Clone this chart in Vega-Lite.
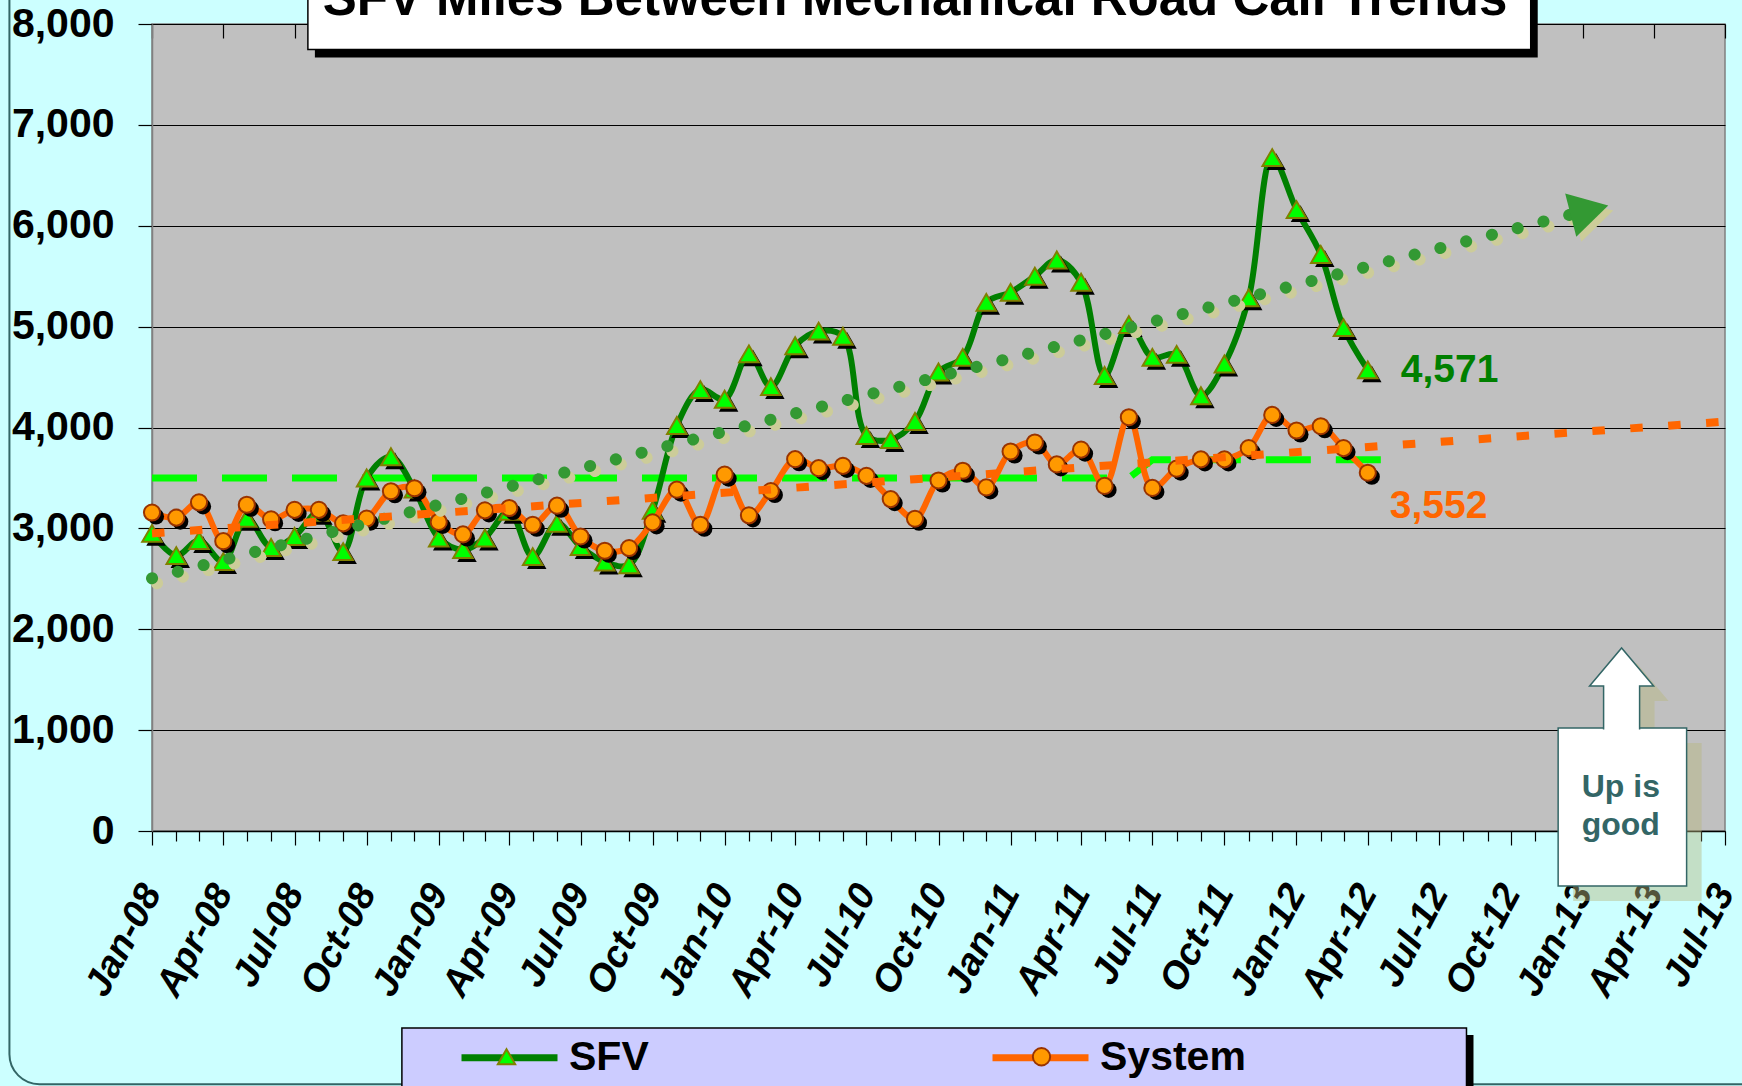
{
  "$schema": "https://vega.github.io/schema/vega-lite/v6.json",
  "autosize": {"type": "none"},
  "width": 1573,
  "height": 807,
  "padding": {"left": 152, "top": 24, "right": 17, "bottom": 255},
  "background": "#CCFFFF",
  "config": {"view": {"fill": "#C0C0C0", "stroke": "#808080", "strokeWidth": 1.5}},
  "datasets": {
    "mbrc": [
      {"date": "2008-01-01T00:00:00", "series": "SFV", "miles": 2950},
      {"date": "2008-02-01T00:00:00", "series": "SFV", "miles": 2730},
      {"date": "2008-03-01T00:00:00", "series": "SFV", "miles": 2880},
      {"date": "2008-04-01T00:00:00", "series": "SFV", "miles": 2670},
      {"date": "2008-05-01T00:00:00", "series": "SFV", "miles": 3100},
      {"date": "2008-06-01T00:00:00", "series": "SFV", "miles": 2810},
      {"date": "2008-07-01T00:00:00", "series": "SFV", "miles": 2920},
      {"date": "2008-08-01T00:00:00", "series": "SFV", "miles": 3160},
      {"date": "2008-09-01T00:00:00", "series": "SFV", "miles": 2770},
      {"date": "2008-10-01T00:00:00", "series": "SFV", "miles": 3500},
      {"date": "2008-11-01T00:00:00", "series": "SFV", "miles": 3710},
      {"date": "2008-12-01T00:00:00", "series": "SFV", "miles": 3390},
      {"date": "2009-01-01T00:00:00", "series": "SFV", "miles": 2905},
      {"date": "2009-02-01T00:00:00", "series": "SFV", "miles": 2790},
      {"date": "2009-03-01T00:00:00", "series": "SFV", "miles": 2905},
      {"date": "2009-04-01T00:00:00", "series": "SFV", "miles": 3170},
      {"date": "2009-05-01T00:00:00", "series": "SFV", "miles": 2720},
      {"date": "2009-06-01T00:00:00", "series": "SFV", "miles": 3050},
      {"date": "2009-07-01T00:00:00", "series": "SFV", "miles": 2820},
      {"date": "2009-08-01T00:00:00", "series": "SFV", "miles": 2665},
      {"date": "2009-09-01T00:00:00", "series": "SFV", "miles": 2640},
      {"date": "2009-10-01T00:00:00", "series": "SFV", "miles": 3180},
      {"date": "2009-11-01T00:00:00", "series": "SFV", "miles": 4020},
      {"date": "2009-12-01T00:00:00", "series": "SFV", "miles": 4375},
      {"date": "2010-01-01T00:00:00", "series": "SFV", "miles": 4280},
      {"date": "2010-02-01T00:00:00", "series": "SFV", "miles": 4730},
      {"date": "2010-03-01T00:00:00", "series": "SFV", "miles": 4405},
      {"date": "2010-04-01T00:00:00", "series": "SFV", "miles": 4810},
      {"date": "2010-05-01T00:00:00", "series": "SFV", "miles": 4955},
      {"date": "2010-06-01T00:00:00", "series": "SFV", "miles": 4905},
      {"date": "2010-07-01T00:00:00", "series": "SFV", "miles": 3920},
      {"date": "2010-08-01T00:00:00", "series": "SFV", "miles": 3880},
      {"date": "2010-09-01T00:00:00", "series": "SFV", "miles": 4060},
      {"date": "2010-10-01T00:00:00", "series": "SFV", "miles": 4550},
      {"date": "2010-11-01T00:00:00", "series": "SFV", "miles": 4695},
      {"date": "2010-12-01T00:00:00", "series": "SFV", "miles": 5240},
      {"date": "2011-01-01T00:00:00", "series": "SFV", "miles": 5340},
      {"date": "2011-02-01T00:00:00", "series": "SFV", "miles": 5500},
      {"date": "2011-03-01T00:00:00", "series": "SFV", "miles": 5660},
      {"date": "2011-04-01T00:00:00", "series": "SFV", "miles": 5440},
      {"date": "2011-05-01T00:00:00", "series": "SFV", "miles": 4515},
      {"date": "2011-06-01T00:00:00", "series": "SFV", "miles": 5020},
      {"date": "2011-07-01T00:00:00", "series": "SFV", "miles": 4695},
      {"date": "2011-08-01T00:00:00", "series": "SFV", "miles": 4725},
      {"date": "2011-09-01T00:00:00", "series": "SFV", "miles": 4315},
      {"date": "2011-10-01T00:00:00", "series": "SFV", "miles": 4630},
      {"date": "2011-11-01T00:00:00", "series": "SFV", "miles": 5285},
      {"date": "2011-12-01T00:00:00", "series": "SFV", "miles": 6675},
      {"date": "2012-01-01T00:00:00", "series": "SFV", "miles": 6160},
      {"date": "2012-02-01T00:00:00", "series": "SFV", "miles": 5715},
      {"date": "2012-03-01T00:00:00", "series": "SFV", "miles": 4990},
      {"date": "2012-04-01T00:00:00", "series": "SFV", "miles": 4571},
      {"date": "2008-01-01T00:00:00", "series": "System", "miles": 3157},
      {"date": "2008-02-01T00:00:00", "series": "System", "miles": 3107},
      {"date": "2008-03-01T00:00:00", "series": "System", "miles": 3258},
      {"date": "2008-04-01T00:00:00", "series": "System", "miles": 2873},
      {"date": "2008-05-01T00:00:00", "series": "System", "miles": 3234},
      {"date": "2008-06-01T00:00:00", "series": "System", "miles": 3090},
      {"date": "2008-07-01T00:00:00", "series": "System", "miles": 3184},
      {"date": "2008-08-01T00:00:00", "series": "System", "miles": 3184},
      {"date": "2008-09-01T00:00:00", "series": "System", "miles": 3050},
      {"date": "2008-10-01T00:00:00", "series": "System", "miles": 3097},
      {"date": "2008-11-01T00:00:00", "series": "System", "miles": 3368},
      {"date": "2008-12-01T00:00:00", "series": "System", "miles": 3398},
      {"date": "2009-01-01T00:00:00", "series": "System", "miles": 3064},
      {"date": "2009-02-01T00:00:00", "series": "System", "miles": 2940},
      {"date": "2009-03-01T00:00:00", "series": "System", "miles": 3179},
      {"date": "2009-04-01T00:00:00", "series": "System", "miles": 3202},
      {"date": "2009-05-01T00:00:00", "series": "System", "miles": 3036},
      {"date": "2009-06-01T00:00:00", "series": "System", "miles": 3225},
      {"date": "2009-07-01T00:00:00", "series": "System", "miles": 2920},
      {"date": "2009-08-01T00:00:00", "series": "System", "miles": 2778},
      {"date": "2009-09-01T00:00:00", "series": "System", "miles": 2805},
      {"date": "2009-10-01T00:00:00", "series": "System", "miles": 3060},
      {"date": "2009-11-01T00:00:00", "series": "System", "miles": 3384},
      {"date": "2009-12-01T00:00:00", "series": "System", "miles": 3036},
      {"date": "2010-01-01T00:00:00", "series": "System", "miles": 3533},
      {"date": "2010-02-01T00:00:00", "series": "System", "miles": 3129},
      {"date": "2010-03-01T00:00:00", "series": "System", "miles": 3370},
      {"date": "2010-04-01T00:00:00", "series": "System", "miles": 3686},
      {"date": "2010-05-01T00:00:00", "series": "System", "miles": 3597},
      {"date": "2010-06-01T00:00:00", "series": "System", "miles": 3620},
      {"date": "2010-07-01T00:00:00", "series": "System", "miles": 3521},
      {"date": "2010-08-01T00:00:00", "series": "System", "miles": 3290},
      {"date": "2010-09-01T00:00:00", "series": "System", "miles": 3096},
      {"date": "2010-10-01T00:00:00", "series": "System", "miles": 3475},
      {"date": "2010-11-01T00:00:00", "series": "System", "miles": 3571},
      {"date": "2010-12-01T00:00:00", "series": "System", "miles": 3406},
      {"date": "2011-01-01T00:00:00", "series": "System", "miles": 3762},
      {"date": "2011-02-01T00:00:00", "series": "System", "miles": 3851},
      {"date": "2011-03-01T00:00:00", "series": "System", "miles": 3634},
      {"date": "2011-04-01T00:00:00", "series": "System", "miles": 3781},
      {"date": "2011-05-01T00:00:00", "series": "System", "miles": 3421},
      {"date": "2011-06-01T00:00:00", "series": "System", "miles": 4102},
      {"date": "2011-07-01T00:00:00", "series": "System", "miles": 3401},
      {"date": "2011-08-01T00:00:00", "series": "System", "miles": 3592},
      {"date": "2011-09-01T00:00:00", "series": "System", "miles": 3684},
      {"date": "2011-10-01T00:00:00", "series": "System", "miles": 3684},
      {"date": "2011-11-01T00:00:00", "series": "System", "miles": 3796},
      {"date": "2011-12-01T00:00:00", "series": "System", "miles": 4125},
      {"date": "2012-01-01T00:00:00", "series": "System", "miles": 3970},
      {"date": "2012-02-01T00:00:00", "series": "System", "miles": 4013},
      {"date": "2012-03-01T00:00:00", "series": "System", "miles": 3796},
      {"date": "2012-04-01T00:00:00", "series": "System", "miles": 3552}
    ],
    "goal": [
      {"date": "2008-01-01T00:00:00", "goal": 3500},
      {"date": "2011-06-01T00:00:00", "goal": 3500},
      {"date": "2011-07-01T00:00:00", "goal": 3680},
      {"date": "2012-05-01T00:00:00", "goal": 3680}
    ],
    "trendSFV": [
      {"date": "2008-01-01T00:00:00", "trend": 2505},
      {"date": "2012-12-16T00:00:00", "trend": 6111}
    ],
    "arrowSFV": [
      {"date": "2013-01-09T00:00:00", "trend": 6153}
    ],
    "trendSystem": [
      {"date": "2008-01-01T00:00:00", "trend": 2950},
      {"date": "2013-07-01T00:00:00", "trend": 4058}
    ]
  },
  "layer": [
    {
      "data": {"values": [{}]},
      "mark": {"type": "rect", "filled": false, "stroke": "#336666", "strokeWidth": 2, "cornerRadius": 30},
      "encoding": {
        "x": {"datum": {"year": 2007, "month": 7, "date": 3}, "type": "temporal"},
        "x2": {"datum": {"year": 2014, "month": 9, "date": 1}},
        "y": {"datum": 9500, "type": "quantitative"},
        "y2": {"datum": -2510}
      }
    },
    {
      "data": {"name": "goal"},
      "mark": {"type": "line", "color": "#00FF00", "strokeWidth": 7, "strokeDash": [45, 25]},
      "encoding": {
        "x": {
          "field": "date", "type": "temporal", "title": null,
          "scale": {"domain": [{"year": 2008, "month": 1, "date": 1}, {"year": 2013, "month": 7, "date": 1}]},
          "axis": {
            "title": null,
            "tickCount": {"interval": "month", "step": 1},
            "labelExpr": "month(datum.value) % 3 == 0 ? timeFormat(datum.value, '%b-%y') : ''",
            "labelAngle": -62, "labelAlign": "right", "labelBaseline": "middle",
            "labelFont": "Liberation Sans", "labelFontSize": 38, "labelFontStyle": "italic", "labelFontWeight": "bold",
            "labelColor": "black", "labelPadding": 42, "labelOffset": 0, "labelFlush": false, "labelOverlap": false, "labelBound": false,
            "tickSize": {"condition": {"test": "month(datum.value) % 3 == 0", "value": 14}, "value": 10},
            "tickColor": "black", "tickWidth": 1.2,
            "domainColor": "black", "domainWidth": 1.5,
            "grid": true, "gridColor": "black", "gridWidth": 1.2, "gridDash": [14, 3000],
            "gridOpacity": {"condition": {"test": "month(datum.value) % 3 == 0", "value": 1}, "value": 0}
          }
        },
        "y": {
          "field": "goal", "type": "quantitative", "title": null,
          "scale": {"domain": [0, 8000], "nice": false},
          "axis": {
            "title": null,
            "values": [0, 1000, 2000, 3000, 4000, 5000, 6000, 7000, 8000],
            "format": ",.0f",
            "labelFont": "Liberation Sans", "labelFontSize": 41, "labelFontWeight": "bold", "labelColor": "black",
            "labelPadding": 24,
            "tickSize": 14, "tickColor": "black", "tickWidth": 1.2,
            "domainColor": "#808080", "domainWidth": 1.5,
            "grid": true, "gridColor": "black", "gridWidth": 1
          }
        }
      }
    },
    {
      "data": {"name": "mbrc"},
      "transform": [{"filter": "datum.series == 'SFV'"}],
      "mark": {"type": "line", "strokeWidth": 6, "interpolate": "catmull-rom"},
      "encoding": {
        "x": {"field": "date", "type": "temporal", "title": null},
        "y": {"field": "miles", "type": "quantitative", "title": null},
        "color": {
          "field": "series", "type": "nominal",
          "scale": {"domain": ["SFV", "System"], "range": ["#008000", "#FF6600"]},
          "legend": {
            "title": null, "orient": "none", "legendX": 306, "legendY": 982, "direction": "horizontal",
            "symbolType": "stroke", "symbolSize": 9216, "symbolStrokeWidth": 7,
            "labelFont": "Liberation Sans", "labelFontSize": 41, "labelFontWeight": "bold", "labelColor": "black",
            "labelOffset": 8, "columnPadding": 329, "padding": 0, "labelLimit": 400, "zindex": 1
          }
        }
      }
    },
    {
      "data": {"name": "mbrc"},
      "transform": [{"filter": "datum.series == 'SFV'"}],
      "mark": {"type": "point", "shape": "triangle-up", "filled": true, "fill": "black", "size": 380, "opacity": 1, "xOffset": 4, "yOffset": 4},
      "encoding": {
        "x": {"field": "date", "type": "temporal", "title": null},
        "y": {"field": "miles", "type": "quantitative", "title": null}
      }
    },
    {
      "data": {"name": "mbrc"},
      "transform": [{"filter": "datum.series == 'SFV'"}],
      "mark": {"type": "point", "filled": true, "size": 380, "strokeWidth": 2, "opacity": 1},
      "encoding": {
        "x": {"field": "date", "type": "temporal", "title": null},
        "y": {"field": "miles", "type": "quantitative", "title": null},
        "shape": {
          "field": "series", "type": "nominal",
          "scale": {"range": ["triangle-up", "circle"]},
          "legend": {
            "title": null, "orient": "none", "legendX": 334, "legendY": 1012, "direction": "horizontal",
            "symbolSize": 300, "symbolStrokeWidth": 2,
            "labelExpr": "''",
            "labelFont": "Liberation Sans", "labelFontSize": 41, "labelFontWeight": "bold",
            "labelOffset": 0, "columnPadding": 494, "padding": 0, "labelLimit": 400, "zindex": 2
          }
        },
        "fill": {"field": "series", "type": "nominal", "scale": {"range": ["#00FF00", "#FF9900"]}},
        "stroke": {"field": "series", "type": "nominal", "scale": {"range": ["#808000", "#993300"]}}
      }
    },
    {
      "data": {"name": "mbrc"},
      "transform": [{"filter": "datum.series == 'System'"}],
      "mark": {"type": "line", "strokeWidth": 6, "interpolate": "catmull-rom"},
      "encoding": {
        "x": {"field": "date", "type": "temporal", "title": null},
        "y": {"field": "miles", "type": "quantitative", "title": null},
        "color": {"field": "series", "type": "nominal"}
      }
    },
    {
      "data": {"name": "mbrc"},
      "transform": [{"filter": "datum.series == 'System'"}],
      "mark": {"type": "point", "shape": "circle", "filled": true, "fill": "black", "size": 260, "opacity": 1, "xOffset": 4, "yOffset": 4},
      "encoding": {
        "x": {"field": "date", "type": "temporal", "title": null},
        "y": {"field": "miles", "type": "quantitative", "title": null}
      }
    },
    {
      "data": {"name": "mbrc"},
      "transform": [{"filter": "datum.series == 'System'"}],
      "mark": {"type": "point", "filled": true, "size": 260, "strokeWidth": 2, "opacity": 1},
      "encoding": {
        "x": {"field": "date", "type": "temporal", "title": null},
        "y": {"field": "miles", "type": "quantitative", "title": null},
        "shape": {"field": "series", "type": "nominal"},
        "fill": {"field": "series", "type": "nominal"},
        "stroke": {"field": "series", "type": "nominal"}
      }
    },
    {
      "data": {"name": "trendSFV"},
      "mark": {"type": "line", "color": "#CCCC99", "strokeWidth": 12, "strokeCap": "round", "strokeDash": [0.1, 26.5], "xOffset": 5, "yOffset": 5},
      "encoding": {
        "x": {"field": "date", "type": "temporal", "title": null},
        "y": {"field": "trend", "type": "quantitative", "title": null}
      }
    },
    {
      "data": {"name": "trendSFV"},
      "mark": {"type": "line", "color": "#339933", "strokeWidth": 12, "strokeCap": "round", "strokeDash": [0.1, 26.5]},
      "encoding": {
        "x": {"field": "date", "type": "temporal", "title": null},
        "y": {"field": "trend", "type": "quantitative", "title": null}
      }
    },
    {
      "data": {"name": "arrowSFV"},
      "mark": {"type": "point", "shape": "triangle-right", "angle": -14.4, "filled": true, "fill": "#CCCC99", "size": 2000, "opacity": 1, "xOffset": 5, "yOffset": 5},
      "encoding": {
        "x": {"field": "date", "type": "temporal", "title": null},
        "y": {"field": "trend", "type": "quantitative", "title": null}
      }
    },
    {
      "data": {"name": "arrowSFV"},
      "mark": {"type": "point", "shape": "triangle-right", "angle": -14.4, "filled": true, "fill": "#339933", "size": 2000, "opacity": 1},
      "encoding": {
        "x": {"field": "date", "type": "temporal", "title": null},
        "y": {"field": "trend", "type": "quantitative", "title": null}
      }
    },
    {
      "data": {"name": "trendSystem"},
      "mark": {"type": "line", "color": "#FF6600", "strokeWidth": 8, "strokeDash": [12.5, 25.5]},
      "encoding": {
        "x": {"field": "date", "type": "temporal", "title": null},
        "y": {"field": "trend", "type": "quantitative", "title": null}
      }
    },
    {
      "data": {"name": "mbrc"},
      "transform": [{"filter": "datum.series == 'SFV'"}, {"filter": {"field": "date", "equal": {"year": 2012, "month": 4, "date": 1}}}],
      "mark": {"type": "text", "align": "left", "baseline": "middle", "dx": 33, "dy": 0, "font": "Liberation Sans", "fontSize": 39, "fontWeight": "bold", "color": "#008000"},
      "encoding": {
        "x": {"field": "date", "type": "temporal", "title": null},
        "y": {"field": "miles", "type": "quantitative", "title": null},
        "text": {"field": "miles", "type": "quantitative", "format": ",.0f"}
      }
    },
    {
      "data": {"name": "mbrc"},
      "transform": [{"filter": "datum.series == 'System'"}, {"filter": {"field": "date", "equal": {"year": 2012, "month": 4, "date": 1}}}],
      "mark": {"type": "text", "align": "left", "baseline": "middle", "dx": 22, "dy": 33, "font": "Liberation Sans", "fontSize": 39, "fontWeight": "bold", "color": "#FF6600"},
      "encoding": {
        "x": {"field": "date", "type": "temporal", "title": null},
        "y": {"field": "miles", "type": "quantitative", "title": null},
        "text": {"field": "miles", "type": "quantitative", "format": ",.0f"}
      }
    },
    {
      "data": {"values": [{}]},
      "mark": {"type": "rect", "fill": "black", "xOffset": 7, "x2Offset": 7, "yOffset": 8, "y2Offset": 8},
      "encoding": {
        "x": {"datum": {"year": 2008, "month": 7, "date": 18}, "type": "temporal"},
        "x2": {"datum": {"year": 2012, "month": 10, "date": 26}},
        "y": {"datum": 9000, "type": "quantitative"},
        "y2": {"datum": 7748}
      }
    },
    {
      "data": {"values": [{}]},
      "mark": {"type": "rect", "fill": "white", "stroke": "black", "strokeWidth": 1.5},
      "encoding": {
        "x": {"datum": {"year": 2008, "month": 7, "date": 18}, "type": "temporal"},
        "x2": {"datum": {"year": 2012, "month": 10, "date": 26}},
        "y": {"datum": 9000, "type": "quantitative"},
        "y2": {"datum": 7748}
      }
    },
    {
      "data": {"values": [{}]},
      "mark": {"type": "text", "text": "SFV Miles Between Mechanical Road Call Trends", "align": "center", "baseline": "alphabetic", "font": "Liberation Sans", "fontSize": 51, "fontWeight": "bold", "color": "black"},
      "encoding": {
        "x": {"datum": {"year": 2010, "month": 9, "date": 1}, "type": "temporal"},
        "y": {"datum": 8090, "type": "quantitative"}
      }
    },
    {
      "data": {"values": [{}]},
      "mark": {"type": "rect", "fill": "black", "xOffset": 7, "x2Offset": 7, "yOffset": 7, "y2Offset": 7},
      "encoding": {
        "x": {"datum": {"year": 2008, "month": 11, "date": 15}, "type": "temporal"},
        "x2": {"datum": {"year": 2012, "month": 8, "date": 5}},
        "y": {"datum": -1953, "type": "quantitative"},
        "y2": {"datum": -2700}
      }
    },
    {
      "data": {"values": [{}]},
      "mark": {"type": "rect", "fill": "#CCCCFF", "stroke": "black", "strokeWidth": 1.5},
      "encoding": {
        "x": {"datum": {"year": 2008, "month": 11, "date": 15}, "type": "temporal"},
        "x2": {"datum": {"year": 2012, "month": 8, "date": 5}},
        "y": {"datum": -1953, "type": "quantitative"},
        "y2": {"datum": -2700}
      }
    },
    {
      "data": {"values": [{}]},
      "mark": {"type": "rect", "fill": "#B8B880", "opacity": 0.45, "xOffset": 15, "x2Offset": 15, "yOffset": 15, "y2Offset": 15},
      "encoding": {
        "x": {"datum": {"year": 2012, "month": 11, "date": 30}, "type": "temporal"},
        "x2": {"datum": {"year": 2013, "month": 5, "date": 13}},
        "y": {"datum": 1022, "type": "quantitative"},
        "y2": {"datum": -546}
      }
    },
    {
      "data": {"values": [{}]},
      "mark": {"type": "point", "shape": "M-0.45,1.04L-0.45,-0.05L-0.8,-0.05L0,-1L0.8,-0.05L0.45,-0.05L0.45,1.04Z", "filled": true, "fill": "#B8B880", "opacity": 0.45, "size": 6400, "xOffset": 15, "yOffset": 15},
      "encoding": {
        "x": {"datum": {"year": 2013, "month": 2, "date": 19}, "type": "temporal"},
        "y": {"datum": 1418, "type": "quantitative"}
      }
    },
    {
      "data": {"values": [{}]},
      "mark": {"type": "rect", "fill": "white", "stroke": "#336666", "strokeWidth": 1.5},
      "encoding": {
        "x": {"datum": {"year": 2012, "month": 11, "date": 30}, "type": "temporal"},
        "x2": {"datum": {"year": 2013, "month": 5, "date": 13}},
        "y": {"datum": 1022, "type": "quantitative"},
        "y2": {"datum": -546}
      }
    },
    {
      "data": {"values": [{}]},
      "mark": {"type": "point", "shape": "M-0.45,1.04L-0.45,-0.05L-0.8,-0.05L0,-1L0.8,-0.05L0.45,-0.05L0.45,1.04", "filled": true, "fill": "white", "stroke": "#336666", "strokeWidth": 1.5, "opacity": 1, "size": 6400},
      "encoding": {
        "x": {"datum": {"year": 2013, "month": 2, "date": 19}, "type": "temporal"},
        "y": {"datum": 1418, "type": "quantitative"}
      }
    },
    {
      "data": {"values": [{}]},
      "mark": {"type": "text", "text": ["Up is", "good"], "lineHeight": 38, "align": "center", "baseline": "middle", "font": "Liberation Sans", "fontSize": 32, "fontWeight": "bold", "color": "#336666"},
      "encoding": {
        "x": {"datum": {"year": 2013, "month": 2, "date": 18}, "type": "temporal"},
        "y": {"datum": 433, "type": "quantitative"}
      }
    }
  ]
}
